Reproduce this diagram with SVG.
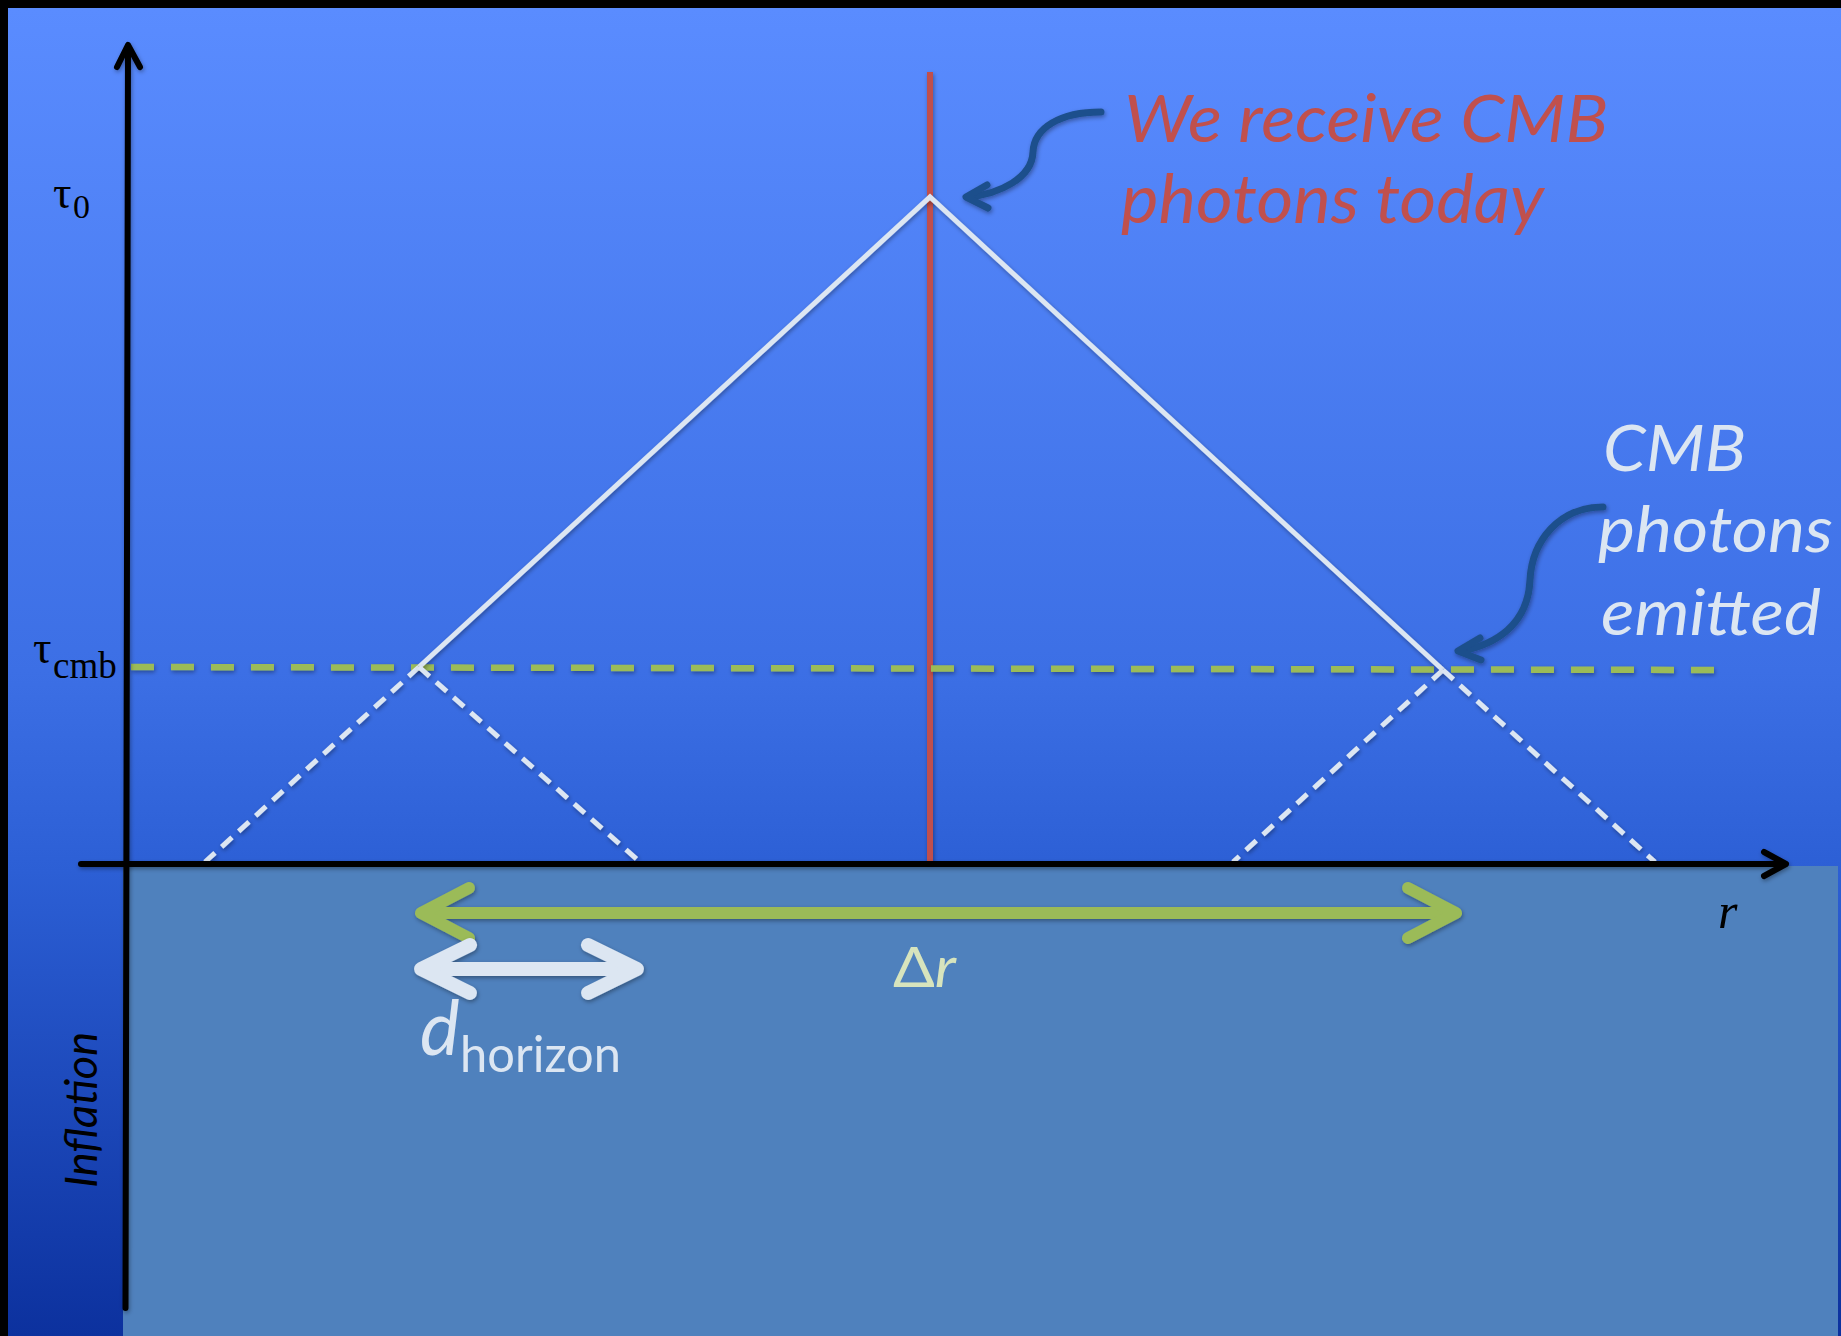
<svg xmlns="http://www.w3.org/2000/svg" width="1841" height="1336" viewBox="0 0 1841 1336">
<defs>
<linearGradient id="bg" x1="0" y1="0" x2="0" y2="1">
<stop offset="0" stop-color="#5a8cff"/>
<stop offset="0.5" stop-color="#3c6fe5"/>
<stop offset="0.65" stop-color="#2c5fd5"/>
<stop offset="1" stop-color="#0c319e"/>
</linearGradient>
<filter id="sh" filterUnits="userSpaceOnUse" x="0" y="0" width="1841" height="1336">
<feDropShadow dx="1" dy="2" stdDeviation="2" flood-color="#000" flood-opacity="0.35"/>
</filter>
<style>
.axis{fill:none;stroke:#000;stroke-width:6;stroke-linecap:round;stroke-linejoin:round}
.light{fill:none;stroke:#dce6f2;stroke-width:5}
.lightd{fill:none;stroke:#dce6f2;stroke-width:5;stroke-dasharray:14 9}
.cmbline{fill:none;stroke:#9bbb59;stroke-width:6.5;stroke-dasharray:23 17}
.callout{fill:none;stroke:#1f4f8c;stroke-width:7;stroke-linecap:round;stroke-linejoin:round}
.garrow{fill:none;stroke:#9bbb59;stroke-width:12;stroke-linecap:round;stroke-linejoin:round}
.warrow{fill:none;stroke:#dce6f2;stroke-width:14;stroke-linecap:round;stroke-linejoin:round}
.opt{font-family:Lato,"Open Sans","Liberation Sans",sans-serif}
.ser{font-family:"Liberation Serif","DejaVu Serif",serif;fill:#000}
</style>
</defs>
<rect x="0" y="0" width="1841" height="1336" fill="#000"/>
<rect x="8" y="8" width="1833" height="1328" fill="url(#bg)"/>
<rect id="inflation-region" x="123" y="866" width="1715" height="470" fill="#4f81bd"/>

<g id="connectors">
<line id="observer-worldline" x1="930" y1="72" x2="930" y2="862" stroke="#c0504d" stroke-width="6" filter="url(#sh)"/>
<line class="cmbline" x1="131" y1="667" x2="1721" y2="670" filter="url(#sh)"/>
<polyline class="light" points="419,667 930,197 1443,670" filter="url(#sh)"/>
<line class="lightd" x1="419" y1="667" x2="205" y2="862" filter="url(#sh)"/>
<line class="lightd" x1="419" y1="667" x2="640" y2="862" filter="url(#sh)"/>
<line class="lightd" x1="1443" y1="670" x2="1233" y2="862" filter="url(#sh)"/>
<line class="lightd" x1="1443" y1="670" x2="1655" y2="862" filter="url(#sh)"/>
<g id="time-axis" filter="url(#sh)">
<line class="axis" x1="125.5" y1="1308" x2="128" y2="46"/>
<polyline class="axis" points="117,67 128,45 140,67"/>
</g>
<g id="r-axis" filter="url(#sh)">
<line class="axis" x1="81" y1="864" x2="1785" y2="864"/>
<polyline class="axis" points="1764,852 1786,864 1764,876"/>
</g>
<g id="callout-today" filter="url(#sh)">
<path class="callout" d="M1101,112 C1060,112 1034,128 1033,152 C1032,178 1000,194 968,197"/>
<polyline class="callout" points="987,185 966,197 988,208"/>
</g>
<g id="callout-emitted" filter="url(#sh)">
<path class="callout" d="M1603,507 C1560,507 1532,540 1530,580 C1528,625 1495,645 1461,651"/>
<polyline class="callout" points="1480,638 1458,651 1481,660"/>
</g>
<g id="delta-r-arrow" filter="url(#sh)">
<line class="garrow" x1="422" y1="913" x2="1454" y2="913"/>
<polyline class="garrow" points="469,888 421,913 469,938"/>
<polyline class="garrow" points="1408,888 1456,913 1408,938"/>
</g>
<g id="horizon-arrow" filter="url(#sh)">
<line class="warrow" x1="424" y1="969" x2="633" y2="969"/>
<polyline class="warrow" points="470,945 421,969 470,993"/>
<polyline class="warrow" points="588,945 637,969 588,993"/>
</g>
</g>

<g id="label-tau0">
<text class="ser" x="53" y="208" font-size="46">τ</text>
<text class="ser" x="73" y="218" font-size="34">0</text>
</g>
<g id="label-taucmb">
<text class="ser" x="33" y="663" font-size="46">τ</text>
<text class="ser" x="53" y="678" font-size="37">cmb</text>
</g>
<g id="label-r">
<text class="ser" x="1718" y="928" font-size="50" font-style="italic">r</text>
</g>
<g id="label-today">
<text class="opt" x="1124" y="142" font-size="66" font-style="italic" fill="#c0504d" textLength="484" lengthAdjust="spacingAndGlyphs">We receive CMB</text>
<text class="opt" x="1121" y="223" font-size="68" font-style="italic" fill="#c0504d" textLength="423" lengthAdjust="spacingAndGlyphs">photons today</text>
</g>
<g id="label-emitted">
<text class="opt" x="1603" y="471" font-size="64" font-style="italic" fill="#dce6f2" textLength="143" lengthAdjust="spacingAndGlyphs">CMB</text>
<text class="opt" x="1598" y="552" font-size="64" font-style="italic" fill="#dce6f2" textLength="235" lengthAdjust="spacingAndGlyphs">photons</text>
<text class="opt" x="1601" y="635" font-size="64" font-style="italic" fill="#dce6f2" textLength="220" lengthAdjust="spacingAndGlyphs">emitted</text>
</g>
<g id="label-horizon">
<text class="opt" x="420" y="1055" font-size="75" font-style="italic" fill="#dce6f2">d</text>
<text class="opt" x="460" y="1072" font-size="50" fill="#dce6f2" textLength="161" lengthAdjust="spacingAndGlyphs">horizon</text>
</g>
<g id="label-delta-r">
<text class="opt" x="893" y="987" font-size="56" fill="#d7e4bd" textLength="63" lengthAdjust="spacingAndGlyphs">Δ<tspan font-style="italic">r</tspan></text>
</g>
<g id="label-inflation">
<text class="opt" transform="translate(97,1188) rotate(-90)" font-size="44" font-style="italic" fill="#000" textLength="156" lengthAdjust="spacingAndGlyphs">Inflation</text>
</g>
</svg>
